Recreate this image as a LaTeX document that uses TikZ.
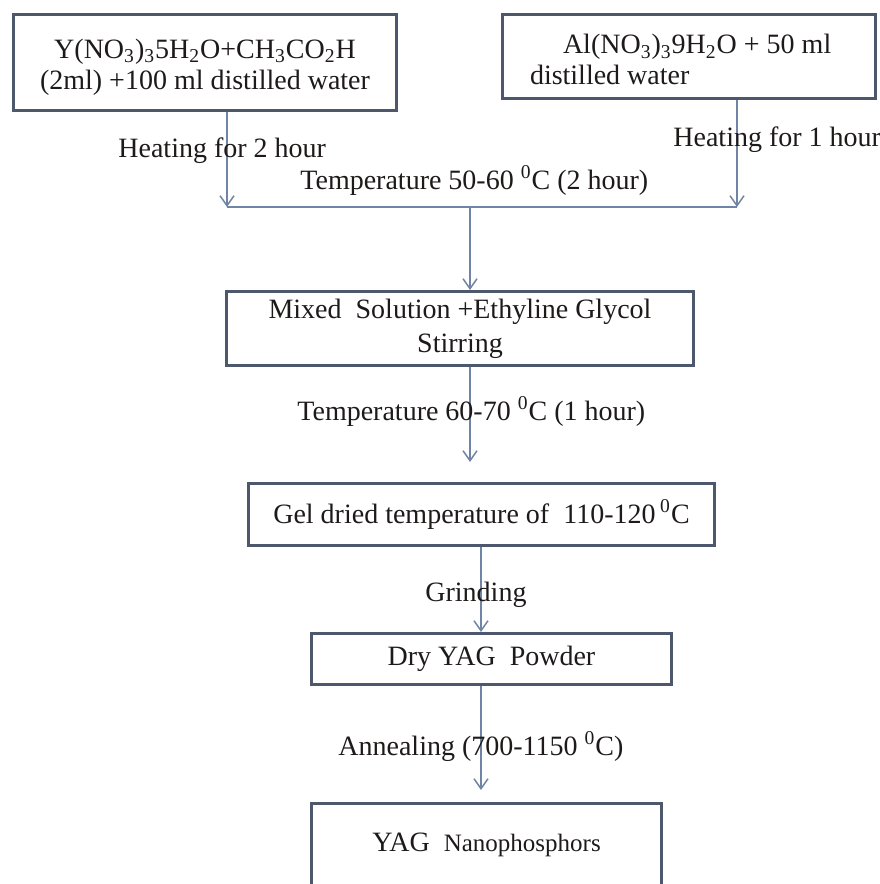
\documentclass[tikz,border=0pt]{standalone}
\usepackage{fontspec}
\setmainfont{Liberation Serif}
\usetikzlibrary{arrows.meta}
\definecolor{slate}{RGB}{78,88,108}
\definecolor{steel}{RGB}{112,132,166}
\definecolor{ink}{RGB}{30,26,26}

\begin{document}
\begin{tikzpicture}[x=0.5pt, y=-0.5pt,
        box/.style={draw=slate, line width=1.5pt, align=center, inner sep=0pt, text=ink,
                    font=\fontsize{14}{15.5}\selectfont},
        flow/.style={-{Straight Barb[length=5pt, width=7pt]}, steel, line width=0.75pt},
        lbl/.style={anchor=base west, inner sep=0pt, text=ink, font=\fontsize{14}{17}\selectfont},
      ]
      \useasboundingbox (0,0) rectangle (879,884);
      \node[box, minimum width=191.5pt, minimum height=48pt] (yno) at (205,62.5)
        {\rule{0pt}{14pt}Y(NO\textsubscript{3})\textsubscript{3}5H\textsubscript{2}O+CH\textsubscript{3}CO\textsubscript{2}H\\ (2ml) +100 ml distilled water};
      \node[box, minimum width=186.5pt, minimum height=42pt, text width=159pt, align=flush left] (alno) at (689,56.5)
        {\rule{0pt}{13pt}\hspace*{16.5pt}Al(NO\textsubscript{3})\textsubscript{3}9H\textsubscript{2}O + 50 ml\\ distilled water};
      \node[box, minimum width=233.5pt, minimum height=37pt, font=\fontsize{14}{17}\selectfont] (mixed) at (460,328.5)
        {Mixed\enspace Solution +Ethyline Glycol\\ Stirring};
      \node[box, minimum width=233pt, minimum height=31pt] (gel) at (481.5,514.5)
        {Gel dried temperature of\enspace 110-120\,\textsuperscript{0}C};
      \node[box, minimum width=180pt, minimum height=25.5pt] (powder) at (491.5,659)
        {Dry YAG\enspace Powder};
      \node[box, minimum width=175pt, minimum height=41.5pt] (nano) at (486.5,845)
        {YAG\hspace{7pt}{\fontsize{12.5}{14}\selectfont Nanophosphors}};
      \coordinate (jl) at (227,207);
      \coordinate (jr) at (737,207);
      \coordinate (jm) at (470,207);
      \coordinate (gelin) at (470,462);
      \coordinate (nanoin) at (481,790);
      \draw[flow] (yno.south -| jl) -- (jl);
      \draw[flow] (alno.south -| jr) -- (jr);
      \draw[steel, line width=0.75pt] (jl) -- (jr);
      \draw[flow] (jm) -- (mixed.north -| jm);
      \draw[flow] (mixed.south -| gelin) -- (gelin);
      \draw[flow] (gel.south -| nanoin) -- (powder.north -| nanoin);
      \draw[flow] (powder.south -| nanoin) -- (nanoin);
      \node[lbl] (heat2) at (118,157) {Heating for 2 hour};
      \node[lbl] (heat1) at (673,146) {Heating for 1 hour};
      \node[lbl] (temp1) at (300,189) {Temperature 50-60 \textsuperscript{0}C (2 hour)};
      \node[lbl] (temp2) at (297,420) {Temperature 60-70 \textsuperscript{0}C (1 hour)};
      \node[lbl] (grind) at (425,601) {Grinding};
      \node[lbl] (anneal) at (338,755) {Annealing (700-1150 \textsuperscript{0}C)};
    \end{tikzpicture}
\end{document}
